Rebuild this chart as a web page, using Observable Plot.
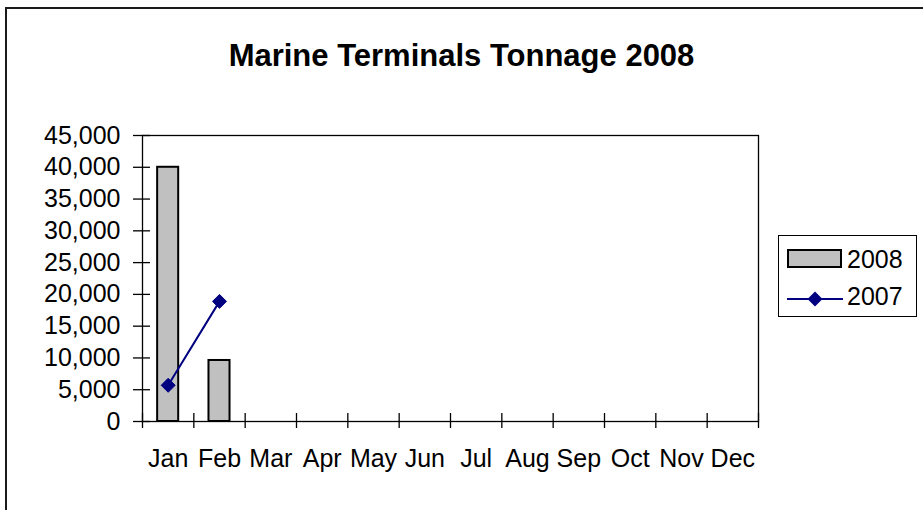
<!DOCTYPE html>
<html>
<head>
<meta charset="utf-8">
<script src="https://cdn.jsdelivr.net/npm/d3@7"></script>
<script src="https://cdn.jsdelivr.net/npm/@observablehq/plot@0.6"></script>
<style>
  html, body { margin: 0; padding: 0; background: #fff; overflow: hidden; }
  #wrap { position: relative; width: 923px; height: 510px; overflow: hidden; font-family: "Liberation Sans", Arial, sans-serif; color: #000; }
  #border { position: absolute; left: 5px; top: 7px; width: 940px; height: 530px; border-left: 2px solid #1a1a1a; border-top: 2px solid #1a1a1a; }
  #chart { position: absolute; left: 0; top: 0; }
  #title { position: absolute; left: 0; top: 40px; width: 923px; text-align: center; font-weight: bold; font-size: 31px; line-height: 31px; }
  #legend { position: absolute; left: 778px; top: 235px; width: 139px; height: 82px; border: 1px solid #000; box-sizing: border-box; background: #fff; }
  .lg-text { position: absolute; font-size: 25px; line-height: 25px; white-space: nowrap; }
  .lg-swatch { position: absolute; }
</style>
</head>
<body>
<div id="wrap">
  <div id="border"></div>
  <div id="chart"></div>
  <div id="title">Marine Terminals Tonnage 2008</div>
  <div id="legend"></div>
</div>
<script>
// ---- data ----
const months = ["Jan", "Feb", "Mar", "Apr", "May", "Jun", "Jul", "Aug", "Sep", "Oct", "Nov", "Dec"];
const months2008 = ["Jan", "Feb"];
const values2008 = [40000, 9600];
const months2007 = ["Jan", "Feb"];
const values2007 = [5700, 18900];
const yTicks = [0, 5000, 10000, 15000, 20000, 25000, 30000, 35000, 40000, 45000];
const seriesNames = ["2008", "2007"];

// ---- styles ----
const barFill = "#c0c0c0";
const lineColor = "#000080";
const barWidth = 0.41; // fraction of a month slot

const idx = m => months.indexOf(m);
const bars = months2008.map((m, i) => ({month: m, i: idx(m), value: values2008[i]}));
const pts = months2007.map((m, i) => ({month: m, i: idx(m), value: values2007[i]}));
const centers = months.map((m, i) => i + 0.5);
const bounds = months.map((m, i) => i).concat([months.length]);
const fmt = d3.format(",");

const chart = Plot.plot({
  width: 923,
  height: 510,
  marginLeft: 142,
  marginRight: 165,
  marginTop: 135,
  marginBottom: 89,
  style: {fontFamily: "'Liberation Sans', Arial, sans-serif", fontSize: "25px", color: "#000", background: "transparent", overflow: "visible"},
  x: {type: "linear", domain: [0, months.length], axis: null},
  y: {domain: [0, 45000], axis: null},
  marks: [
    Plot.rectY(bars, {
      x1: d => d.i + 0.5 - barWidth / 2,
      x2: d => d.i + 0.5 + barWidth / 2,
      y1: 0, y2: "value",
      fill: barFill, stroke: "#000", strokeWidth: 2
    }),
    Plot.frame({stroke: "#000", strokeWidth: 1.3}),
    // y ticks crossing the axis
    Plot.ruleY(yTicks, {y: d => d, x1: 0, x2: 0, insetLeft: -9, insetRight: -8, stroke: "#000", strokeWidth: 1.3}),
    // x ticks at month boundaries crossing the axis
    Plot.ruleX(bounds, {x: d => d, y1: 0, y2: 0, insetTop: -8, insetBottom: -7, stroke: "#000", strokeWidth: 1.3}),
    Plot.axisY({ticks: yTicks, tickSize: 0, tickPadding: 22, tickFormat: fmt, label: null}),
    Plot.axisX({ticks: centers, tickSize: 0, tickPadding: 28, tickFormat: t => months[Math.floor(t)], label: null}),
    Plot.line(pts, {x: d => d.i + 0.5, y: "value", stroke: lineColor, strokeWidth: 2}),
    Plot.dot(pts, {x: d => d.i + 0.5, y: "value", symbol: "diamond2", r: 6.3, fill: lineColor, stroke: lineColor, strokeWidth: 1})
  ]
});
document.getElementById("chart").appendChild(chart);

// ---- legend ----
const legend = document.getElementById("legend");
legend.innerHTML = `
  <div class="lg-swatch" style="left:8px;top:13px;width:55px;height:19px;background:${barFill};border:2px solid #000;box-sizing:border-box;"></div>
  <div class="lg-text" style="left:68px;top:11px;">${seriesNames[0]}</div>
  <svg class="lg-swatch" style="left:8px;top:54px;" width="56" height="18">
    <line x1="0" y1="9" x2="56" y2="9" stroke="${lineColor}" stroke-width="2"/>
    <polygon points="28,1.5 35.5,9 28,16.5 20.5,9" fill="${lineColor}"/>
  </svg>
  <div class="lg-text" style="left:68px;top:48px;">${seriesNames[1]}</div>
`;
</script>
</body>
</html>
